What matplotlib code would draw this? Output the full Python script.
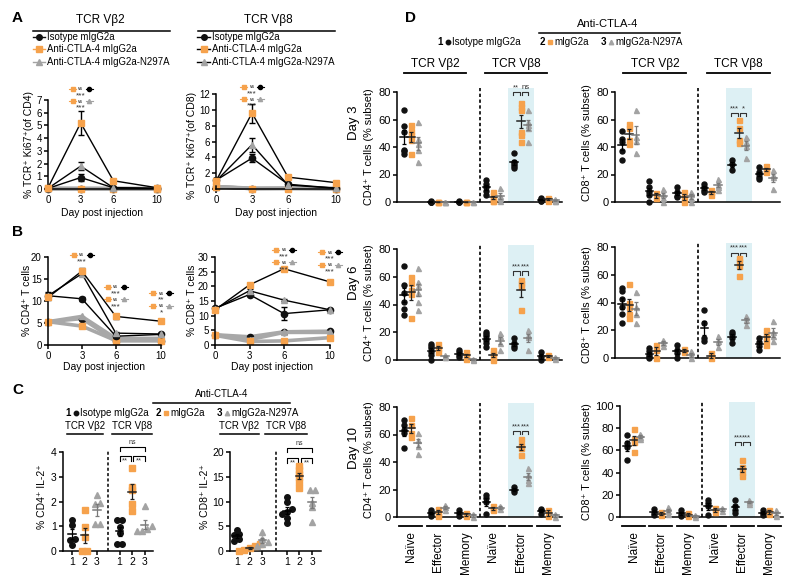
import numpy as np
import matplotlib
matplotlib.use("Agg")
import matplotlib.pyplot as plt
from matplotlib.lines import Line2D
from matplotlib.patches import Rectangle

plt.rcParams['font.family'] = ['Liberation Sans', 'DejaVu Sans']
plt.rcParams['axes.linewidth'] = 1.1
plt.rcParams['xtick.major.width'] = 1.1
plt.rcParams['ytick.major.width'] = 1.1
plt.rcParams['xtick.major.size'] = 3
plt.rcParams['ytick.major.size'] = 3

BLACK = '#111111'
ORANGE = '#F6A24C'
GREY = '#A3A3A3'
LINEGREY = '#A8A8A8'
SHADE = '#DDF0F4'
cols = [BLACK, ORANGE, GREY]
mean_cols = ['k', '#222222', '#7a7a7a']
mks = ['o', 's', '^']
names = ['Isotype mIgG2a', 'Anti-CTLA-4 mIgG2a', 'Anti-CTLA-4 mIgG2a-N297A']

# ---------------- panel A / B : time courses (series order: isotype, mIgG2a, N297A)
days = [0, 3, 6, 10]
a_cd4_v8 = [[0.05, 0.9, 0.1, 0.05], [0.1, 5.2, 0.65, 0.1], [0.05, 1.8, 0.1, 0.05]]
a_cd4_v8_err = [[0.05, 0.25, 0.05, 0.02], [0.05, 0.95, 0.08, 0.05], [0.03, 0.3, 0.05, 0.02]]
a_cd4_v2 = [[0.02, 0.02, 0.02, 0.02], [0.05, 0.03, 0.03, 0.02], [0.05, 0.05, 0.05, 0.03]]
a_cd8_v8 = [[1.1, 3.9, 0.6, 0.1], [1.0, 9.6, 1.5, 0.8], [1.0, 5.6, 0.5, 0.1]]
a_cd8_v8_err = [[0.3, 0.5, 0.2, 0.05], [0.3, 1.2, 0.1, 0.1], [0.3, 0.9, 0.1, 0.05]]
a_cd8_v2 = [[0.3, 0.05, 0.1, 0.05], [0.3, 0.05, 0.05, 0.05], [0.3, 0.1, 0.1, 0.05]]

b_cd4_v8 = [[11.2, 10.5, 2.0, 2.4], [10.8, 16.8, 6.5, 5.4], [11.2, 16.2, 2.7, 2.5]]
b_cd4_v8_err = [[0.6, 0.5, 0.4, 0.2], [0.5, 0.6, 0.5, 0.3], [0.8, 0.5, 0.3, 0.2]]
b_cd4_v2 = [[5.3, 6.0, 1.0, 1.0], [5.3, 4.3, 1.0, 1.0], [5.3, 6.5, 1.5, 1.5]]
b_cd8_v8 = [[12.5, 17.2, 10.7, 12.0], [12.0, 20.5, 26.0, 21.5], [12.3, 18.5, 15.3, 12.0]]
b_cd8_v8_err = [[0.5, 0.6, 2.3, 0.3], [0.5, 0.8, 0.4, 0.8], [0.5, 0.5, 0.4, 0.3]]
b_cd8_v2 = [[3.5, 2.8, 4.5, 4.7], [3.3, 1.2, 1.4, 2.5], [3.5, 1.8, 4.3, 4.3]]

# significance tags: (day, y, [(compared marker, stars), ...])
a_cd4_tags = [(3, 7.9, [('o', '***'), ('^', '***')])]
a_cd8_tags = [(3, 12.9, [('o', '***'), ('^', '***')])]
b_cd4_tags = [(3, 20.5, [('o', '***')]), (6, 13.2, [('o', '***'), ('^', '***')]),
              (10, 11.8, [('o', '**'), ('^', '*')])]
b_cd8_tags = [(6, 32.4, [('o', '***'), ('^', '***')]), (10, 31.7, [('o', '***'), ('^', '***')])]

# ---------------- panel C : IL-2+ (each series: [TCR Vb2 points, TCR Vb8 points])
c_cd4_iso = [[1.27, 1.05, 0.5, 0.45, 0.23], [1.27, 1.24, 0.97, 0.73, 0.3, 0.3]]
c_cd4_wt = [[1.64, 0.97, 0.57, 0, 0], [3.37, 2.59, 2.45, 1.91, 1.62]]
c_cd4_n297a = [[2.25, 1.94, 1.9, 1.08, 1.08], [1.8, 1.0, 0.9, 0.8, 0.8]]
c_cd8_iso = [[4.2, 3.5, 3.2, 2.5, 2.0], [10.9, 9.9, 8.5, 7.9, 7.5, 6.7, 5.7]]
c_cd8_wt = [[1.4, 1.0, 0.6, 0.2, 0], [17.1, 16.3, 15.6, 14.9, 13.9, 12.8]]
c_cd8_n297a = [[3.8, 2.5, 1.8, 1.5, 1.1], [12.3, 12.3, 9.6, 8.9, 5.9]]
c_ticklabels = ['1', '2', '3', '1', '2', '3']

# ---------------- panel D : subsets (groups: naive, effector, memory for Vb2 then Vb8)
d_groups = ['Naïve', 'Effector', 'Memory', 'Naïve', 'Effector', 'Memory']
d3_cd4_iso = [[67, 55, 51, 38, 37, 35], [0.5, 0.3, 0.2, 0.1, 0], [0.5, 0.3, 0.2, 0],
              [16, 13, 11, 8, 5], [36, 29, 28, 26.5, 25], [3, 2, 1.5, 1, 0.5]]
d3_cd4_wt = [[56, 52, 49, 45, 35], [0.3, 0.2, 0], [0.3, 0.2, 0],
             [7, 5, 3, 1, 0.5], [72, 69, 67, 51, 48.5, 44], [3, 2, 1]]
d3_cd4_n297a = [[58, 46, 42, 38, 29], [0.2, 0.1, 0], [0.2, 0],
                [10, 4.6, 3, 0.5], [67, 58, 56, 54, 44], [2, 1.5, 1, 0.5]]
d3_cd8_iso = [[52, 45.5, 44, 37, 30.5], [15.5, 11, 7.5, 5, 0], [11, 7.5, 4.5, 3.5],
              [13, 11, 9, 7], [30.5, 27.5, 23.5], [25.5, 22, 20.5, 18.5, 16.5]]
d3_cd8_wt = [[57, 53.5, 45, 42], [6.5, 3], [7, 3.5, 0],
             [9, 7, 5], [59.5, 53.5, 45, 43], [26, 23.5, 21.5]]
d3_cd8_n297a = [[67, 47.5, 44.5, 35.5], [9.5, 6, 3, 0], [7.5, 6, 3, 0],
                [16.5, 12.5, 11, 9], [47.5, 44, 40.5, 32], [23.5, 20, 18, 9.5]]
d6_cd4_iso = [[68, 54, 48, 42, 37, 32.5], [11.5, 10, 8.5, 6, 3.5, 0], [7, 5.5, 3.5, 2.5],
              [20.5, 18.5, 17, 14.5, 12, 9.5], [15.5, 12, 10, 8.5], [5.5, 2.5, 0]]
d6_cd4_wt = [[60, 55.5, 50.5, 47.5, 30], [11.5, 9, 5.5], [5.5, 3.5, 1],
             [7.5, 5, 2, 0], [58, 55.5, 53, 36], [3.5, 2]]
d6_cd4_n297a = [[66, 56.5, 53, 48, 42, 36], [3.5, 2.5, 2], [1, 0],
                [19.5, 17, 12, 7.5], [21.5, 18, 16.5, 7.5], [2, 0.5]]
d6_cd8_iso = [[50.5, 48, 42.5, 37, 32, 25], [7, 5, 2.5, 0.5, 0], [9.5, 6, 3.5, 0],
              [34.5, 25, 14.5, 12], [19, 17, 14.5, 11], [14.5, 11.5, 8.5, 6]]
d6_cd8_wt = [[53.5, 39.5, 37, 32, 29], [9.5, 6, 0], [6.5, 4],
             [3.5, 0], [72, 70, 66, 59], [20.5, 17, 13, 9.5]]
d6_cd8_n297a = [[47.5, 37, 32, 25], [13, 11, 8.5], [5, 2.5, 0],
                [15.5, 12, 8], [30, 27.5, 24], [26.5, 19, 15.5, 12]]
d10_cd4_iso = [[70.5, 67, 63, 61, 50], [5, 3.5, 2.5, 1], [5, 3, 1],
               [16, 13.5, 11, 2.5], [21.5, 20, 18], [6, 5, 2.5]]
d10_cd4_wt = [[72, 67, 61, 58], [6, 3, 1], [3, 1],
              [8, 6, 5], [56.5, 52.5, 50, 45], [5, 1]]
d10_cd4_n297a = [[61, 56, 52, 46], [8.5, 7, 5], [2.5, 0],
                 [8, 5.5], [35.5, 30.5, 27, 24.5], [2.5, 0]]
d10_cd8_iso = [[73.5, 66.5, 63, 51.5], [7.5, 3.5, 1.5], [6, 3, 0.5],
               [15.5, 12.5, 9.5, 1.5], [15.5, 9.5, 6, 3.5], [6, 3.5, 1.5]]
d10_cd8_wt = [[79.5, 70.5, 67.5, 58.5], [4.5, 1.5], [3.5, 0.5],
              [8.5, 4.5], [51, 45, 40.5, 36.5], [6, 3]]
d10_cd8_n297a = [[75, 72, 70.5], [9, 5.5, 3], [1.5, 0],
                 [8.5, 5.5], [15.5, 13.5, 12], [6, 3, 0.5]]
# bracket height and stars over the Vb8 effector group
d3_cd4_sig = (80, '**', 'ns')
d3_cd8_sig = (64.7, '***', '*')
d6_cd4_sig = (64, '***', '***')
d6_cd8_sig = (76, '***', '***')
d10_cd4_sig = (62.5, '***', '***')
d10_cd8_sig = (67.5, '***', '***')

W, H = 800, 588
fig = plt.figure(figsize=(W / 100, H / 100), dpi=100)


def box(l, t, r, b):
    return fig.add_axes([l / W, (H - b) / H, (r - l) / W, (b - t) / H])


def ftext(x, y, s, **kw):
    return fig.text(x / W, (H - y) / H, s, **kw)


def fline(xs, ys, **kw):
    kw.setdefault('color', 'k')
    kw.setdefault('lw', 1.1)
    fig.add_artist(Line2D([x / W for x in xs], [(H - y) / H for y in ys], **kw))


def prism(ax, fs=7):
    ax.spines['top'].set_visible(False)
    ax.spines['right'].set_visible(False)
    ax.tick_params(labelsize=fs, pad=1.5)


def noclip(cont):
    for a in cont.get_children():
        a.set_clip_on(False)


def timecourse(ax, v8, v8err, v2, ymax, ystep):
    ax.set_xlim(0, 10)
    ax.set_ylim(0, ymax)
    ax.set_xticks(days)
    ax.set_yticks(np.arange(0, ymax + 0.01, ystep))
    prism(ax)
    for i in [0, 2, 1]:
        ln, = ax.plot(days, v2[i], color=LINEGREY, lw=2.6, marker=mks[i], ms=4.5,
                      mfc=cols[i], mec=cols[i], zorder=2)
        ln.set_clip_on(False)
    for i in [0, 2, 1]:
        c = ax.errorbar(days, v8[i], yerr=v8err[i], color='k', lw=1, marker=mks[i], ms=4.5,
                        mfc=cols[i], mec=cols[i], ecolor='k', elinewidth=1, capsize=2,
                        capthick=1, zorder=3 + (i == 1))
        noclip(c)


def vs_tag(ax, tags):
    for day, y, rows in tags:
        dx, dy = ax.transData.transform((day, y))
        cx, cy = dx, H - dy
        for k, (other, stars) in enumerate(rows):
            yy = cy + k * 12.5
            oc = 'k' if other == 'o' else GREY
            fline([cx - 12, cx - 5], [yy, yy], lw=0.8, color=ORANGE)
            fline([cx + 5, cx + 12], [yy, yy], lw=0.8, color=oc)
            fline([cx - 8], [yy], ls='none', marker='s', ms=3, color=ORANGE)
            fline([cx + 8], [yy], ls='none', marker=other, ms=3, color=oc)
            ftext(cx, yy, 'vs', fontsize=3.5, ha='center', va='center')
            ftext(cx, yy + 7, stars, fontsize=6, ha='center', va='center', color='#333333')


def swarm(vals, tol, step):
    vals = np.asarray(vals, float)
    order = np.argsort(vals)
    offs = np.zeros(len(vals))
    clusters = [[order[0]]]
    for i in order[1:]:
        if vals[i] - vals[clusters[-1][-1]] < tol:
            clusters[-1].append(i)
        else:
            clusters.append([i])
    for cl in clusters:
        n = len(cl)
        for j, i in enumerate(cl):
            offs[i] = (j - (n - 1) / 2) * step
    return offs


def mean_sem(ax, x, pts, col, half):
    m = np.mean(pts)
    se = np.std(pts, ddof=1) / np.sqrt(len(pts)) if len(pts) > 1 else 0
    ax.plot([x - half, x + half], [m, m], color=col, lw=1.1, zorder=5, clip_on=False)
    c = ax.errorbar(x, m, yerr=se, color=col, lw=0.9, capsize=1.5, capthick=0.9, zorder=5)
    noclip(c)


def il2(ax, series, xpos, xlim, ymax, ystep, dash_x, brk, ns_y):
    ax.set_xlim(*xlim)
    ax.set_ylim(0, ymax)
    ax.set_yticks(np.arange(0, ymax + 0.01, ystep))
    allx = [xpos[g][i] for g in range(2) for i in range(3)]
    ax.set_xticks(allx)
    ax.set_xticklabels(c_ticklabels)
    prism(ax, 7.5)
    ax.plot([dash_x, dash_x], [0, ymax * 1.02], ls=(0, (2, 1.5)), color='k', lw=1.1, clip_on=False)
    for i in range(3):
        for g in range(2):
            pts = series[i][g]
            x = xpos[g][i] + swarm(pts, ymax * 0.03, 0.4)
            ax.plot(x, pts, ls='none', marker=mks[i], ms=4, mfc=cols[i], mec=cols[i],
                    clip_on=False, zorder=3)
            mean_sem(ax, xpos[g][i], pts, mean_cols[i], 0.3)
    leg = ymax * 0.05
    p = xpos[1]
    for x0, x1 in [(p[0], p[1] - 0.1), (p[1] + 0.1, p[2])]:
        ax.plot([x0, x0, x1, x1], [brk - leg, brk, brk, brk - leg], color='k', lw=0.8, clip_on=False)
        ax.text((x0 + x1) / 2, brk - leg * 0.25, '**', fontsize=5.5, ha='center', va='top', color='#333333')
    ax.plot([p[0], p[0], p[2], p[2]], [ns_y - leg * 0.8, ns_y, ns_y, ns_y - leg * 0.8], color='k', lw=0.8, clip_on=False)
    ax.text(p[1], ns_y + leg * 0.2, 'ns', fontsize=5, ha='center', va='bottom', color='#333333')


def subset(ax, series, ymax, ystep, sig, labels=False):
    ax.set_xlim(0, 6)
    ax.set_ylim(0, ymax)
    ax.set_xticks([])
    ax.set_yticks(np.arange(0, ymax + 0.01, ystep))
    prism(ax, 8)
    ax.add_patch(Rectangle((4.03, 0), 0.94, ymax * 1.035, color=SHADE, lw=0, zorder=0, clip_on=False))
    ax.plot([3, 3], [0, ymax * 1.04], ls=(0, (2, 1.5)), color='k', lw=1.2, clip_on=False)
    for i in range(3):
        for g in range(6):
            pts = series[i][g]
            x = g + 0.5 + (i - 1) * 0.25
            ax.plot([x] * len(pts), pts, ls='none', marker=mks[i], ms=3.6, mfc=cols[i],
                    mec=cols[i], clip_on=False, zorder=3)
            mean_sem(ax, x, pts, mean_cols[i], 0.14)
    by, s1, s2 = sig
    leg = ymax * 0.03
    for (x0, x1), s in zip([(4.22, 4.46), (4.54, 4.78)], [s1, s2]):
        ax.plot([x0, x0, x1, x1], [by - leg, by, by, by - leg], color='#333333', lw=0.8, clip_on=False)
        ax.text((x0 + x1) / 2, by + leg * 0.3, s, fontsize=5.5, ha='center', va='bottom', color='#333333')
    if labels:
        tr = ax.get_xaxis_transform()
        for g, name in enumerate(d_groups):
            c = g + 0.5
            ax.plot([c - 0.42, c + 0.42], [-0.085, -0.085], color='k', lw=1.3, transform=tr, clip_on=False)
            ax.text(c, -0.13, name, rotation=90, ha='center', va='top', fontsize=8.5, transform=tr)


# ================= panel A
ax = box(48, 100, 157, 189)
timecourse(ax, a_cd4_v8, a_cd4_v8_err, a_cd4_v2, 7, 1)
vs_tag(ax, a_cd4_tags)
ax = box(216, 94, 336, 189)
timecourse(ax, a_cd8_v8, a_cd8_v8_err, a_cd8_v2, 12, 2)
vs_tag(ax, a_cd8_tags)

ftext(100, 20, 'TCR Vβ2', fontsize=8.5, ha='center', va='center')
fline([33, 170], [31, 31])
ftext(268, 20, 'TCR Vβ8', fontsize=8.5, ha='center', va='center')
fline([198, 335], [31, 31])
for k in range(3):
    y = 37 + k * 12.3
    fline([33, 45], [y, y], color=cols[k], lw=1)
    fline([39], [y], ls='none', marker=mks[k], ms=4, color=cols[k])
    ftext(47, y, names[k], fontsize=6.9, va='center')
    fline([197, 210], [y, y], color='k', lw=1)
    fline([203.5], [y], ls='none', marker=mks[k], ms=4, color=cols[k])
    ftext(212, y, names[k], fontsize=6.9, va='center')
ftext(29, 145, '% TCR⁺ Ki67⁺(of CD4)', rotation=90, fontsize=7.5, ha='center', va='center')
ftext(192, 145, '% TCR⁺ Ki67⁺(of CD8)', rotation=90, fontsize=7.5, ha='center', va='center')
ftext(102, 213, 'Day post injection', fontsize=7.5, ha='center', va='center')
ftext(276, 213, 'Day post injection', fontsize=7.5, ha='center', va='center')

# ================= panel B
ax = box(48, 257, 161, 345)
timecourse(ax, b_cd4_v8, b_cd4_v8_err, b_cd4_v2, 20, 5)
vs_tag(ax, b_cd4_tags)
ax = box(215, 257, 330, 345)
timecourse(ax, b_cd8_v8, b_cd8_v8_err, b_cd8_v2, 30, 5)
vs_tag(ax, b_cd8_tags)
ftext(27, 300, '% CD4⁺ T cells', rotation=90, fontsize=7.5, ha='center', va='center')
ftext(192, 300, '% CD8⁺ T cells', rotation=90, fontsize=7.5, ha='center', va='center')
ftext(104, 367, 'Day post injection', fontsize=7.5, ha='center', va='center')
ftext(272, 367, 'Day post injection', fontsize=7.5, ha='center', va='center')

# ================= panel C
ax = box(63, 452, 153, 551)
il2(ax, [c_cd4_iso, c_cd4_wt, c_cd4_n297a], [[1, 2, 3], [4.8, 5.8, 6.8]], (0.28, 7.48), 4, 1, 3.9, 3.85, 4.22)
ax = box(230, 452, 321, 551)
il2(ax, [c_cd8_iso, c_cd8_wt, c_cd8_n297a], [[1, 2, 3], [4.9, 5.9, 6.9]], (0.47, 7.58), 20, 5, 4.1, 18.8, 20.8)
ftext(42, 497, '% CD4⁺ IL-2⁺', rotation=90, fontsize=7.5, ha='center', va='center')
ftext(205, 497, '% CD8⁺ IL-2⁺', rotation=90, fontsize=7.5, ha='center', va='center')
for cx, lab, x0, x1 in [(85, 'TCR Vβ2', 67, 103), (132, 'TCR Vβ8', 112, 152),
                        (239, 'TCR Vβ2', 220, 259), (286, 'TCR Vβ8', 265, 307)]:
    ftext(cx, 426, lab, fontsize=7, ha='center', va='center')
    fline([x0, x1], [434, 434])
ftext(222, 394, 'Anti-CTLA-4', fontsize=7, ha='center', va='center')
fline([153, 290], [403, 403])


def legend_row(y, xs, fs):
    for k, x in enumerate(xs):
        ftext(x, y, str(k + 1), fontsize=fs, fontweight='bold', ha='center', va='center')
        fline([x + 8], [y], ls='none', marker=mks[k], ms=3.2, color=cols[k])
        ftext(x + 12, y, ['Isotype mIgG2a', 'mIgG2a', 'mIgG2a-N297A'][k], fontsize=fs, va='center')


legend_row(413, [68, 158, 219], 7)

# ================= panel D
subset(box(397, 92, 562, 202), [d3_cd4_iso, d3_cd4_wt, d3_cd4_n297a], 80, 20, d3_cd4_sig)
subset(box(615, 92, 780, 202), [d3_cd8_iso, d3_cd8_wt, d3_cd8_n297a], 80, 20, d3_cd8_sig)
subset(box(397, 249, 562, 360), [d6_cd4_iso, d6_cd4_wt, d6_cd4_n297a], 80, 20, d6_cd4_sig)
subset(box(615, 247, 780, 358), [d6_cd8_iso, d6_cd8_wt, d6_cd8_n297a], 80, 20, d6_cd8_sig)
subset(box(397, 407, 562, 517), [d10_cd4_iso, d10_cd4_wt, d10_cd4_n297a], 80, 20, d10_cd4_sig, True)
subset(box(620, 406, 783, 517), [d10_cd8_iso, d10_cd8_wt, d10_cd8_n297a], 100, 20, d10_cd8_sig, True)

for day, yd, yc4, yc8 in [('Day 3', 123, 147, 143), ('Day 6', 283, 303, 305), ('Day 10', 448, 460, 462)]:
    ftext(354, yd, day, rotation=90, fontsize=9.5, ha='center', va='center')
    ftext(369, yc4, 'CD4⁺ T cells (% subset)', rotation=90, fontsize=7.8, ha='center', va='center')
    ftext(587, yc8, 'CD8⁺ T cells (% subset)', rotation=90, fontsize=7.8, ha='center', va='center')

ftext(608, 24, 'Anti-CTLA-4', fontsize=8, ha='center', va='center')
fline([539, 680], [33, 33])
legend_row(42, [440, 542, 603], 7)
for cx, lab, x0, x1 in [(435, 'TCR Vβ2', 404, 466), (516, 'TCR Vβ8', 485, 547),
                        (655, 'TCR Vβ2', 623, 686), (738, 'TCR Vβ8', 707, 770)]:
    ftext(cx, 64, lab, fontsize=8.5, ha='center', va='center')
    fline([x0, x1], [73, 73], lw=1.3)

for lab, x, y in [('A', 12, 18), ('B', 12, 232), ('C', 12, 390), ('D', 405, 18)]:
    ftext(x, y, lab, fontsize=11, fontweight='bold', ha='left', va='center')

fig.savefig('out.png', dpi=100)
